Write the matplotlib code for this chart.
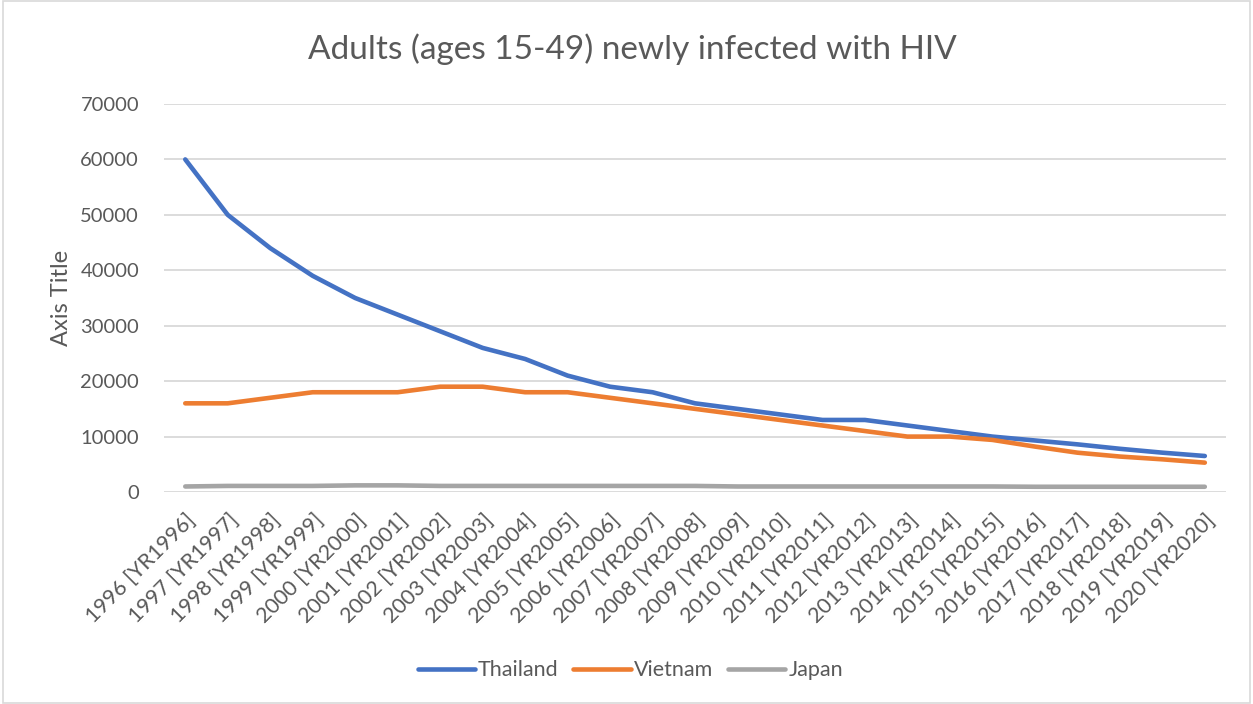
import matplotlib
matplotlib.use("Agg")
import matplotlib.pyplot as plt
from matplotlib.transforms import ScaledTranslation
from matplotlib.patches import Rectangle

years = list(range(1996, 2021))
labels = [f"{y} [YR{y}]" for y in years]
thailand = [60000, 50000, 44000, 39000, 35000, 32000, 29000, 26000, 24000, 21000,
            19000, 18000, 16000, 15000, 14000, 13000, 13000, 12000, 11000, 10000,
            9300, 8600, 7800, 7100, 6500]
vietnam = [16000, 16000, 17000, 18000, 18000, 18000, 19000, 19000, 18000, 18000,
           17000, 16000, 15000, 14000, 13000, 12000, 11000, 10000, 10000, 9400,
           8200, 7100, 6400, 5900, 5300]
japan = [1000, 1100, 1100, 1100, 1200, 1200, 1100, 1100, 1100, 1100,
         1100, 1100, 1100, 1000, 1000, 1000, 1000, 1000, 1000, 1000,
         950, 950, 950, 950, 950]
yticks = [0, 10000, 20000, 30000, 40000, 50000, 60000, 70000]

TXT = "#595959"
plt.rcParams['font.family'] = ['Lato', 'DejaVu Sans']

fig = plt.figure(figsize=(12.53, 7.04), dpi=100)
ax = fig.add_axes([0.1309, 0.3011, 0.8476, 0.5512])

x = list(range(len(years)))
kw = dict(lw=3.3, solid_capstyle='round', solid_joinstyle='round')
ax.plot(x, thailand, color="#4472C4", label="Thailand", **kw)
ax.plot(x, vietnam, color="#ED7D31", label="Vietnam", **kw)
ax.plot(x, japan, color="#A5A5A5", label="Japan", **kw)

ax.set_xlim(-0.5, len(years) - 0.5)
ax.set_ylim(0, 70000)
ax.set_yticks(yticks)
ax.set_yticklabels([str(v) for v in yticks])
ax.grid(axis='y', color="#D9D9D9", lw=1.3)
ax.set_axisbelow(True)
for s in ax.spines.values():
    s.set_visible(False)
ax.tick_params(axis='x', length=0, labelsize=15.5, labelcolor=TXT)
ax.tick_params(axis='y', length=0, labelsize=14.5, labelcolor=TXT, pad=18)
ax.set_xticks(x)
ax.set_xticklabels(labels, rotation=45, ha='right', va='center', rotation_mode='anchor')
offset = ScaledTranslation(0.07, -0.20, fig.dpi_scale_trans)
for lab in ax.get_xticklabels():
    lab.set_transform(lab.get_transform() + offset)

ax.set_ylabel("Axis Title", fontsize=17, color=TXT, labelpad=6)

fig.text(0.5045, 0.930, "Adults (ages 15-49) newly infected with HIV", ha='center', va='center',
         fontsize=24, color=TXT)

leg = fig.legend(loc='center', bbox_to_anchor=(0.503, 0.048), ncol=3, frameon=False,
                 fontsize=15.5, handlelength=2.65, handletextpad=0.15, columnspacing=0.7)
for t in leg.get_texts():
    t.set_color(TXT)

fig.patches.append(Rectangle((0.002, 0.002), 0.996, 0.996, transform=fig.transFigure,
                             fill=False, edgecolor="#D9D9D9", lw=1.2))

fig.savefig("out.png", dpi=100, facecolor='white')
